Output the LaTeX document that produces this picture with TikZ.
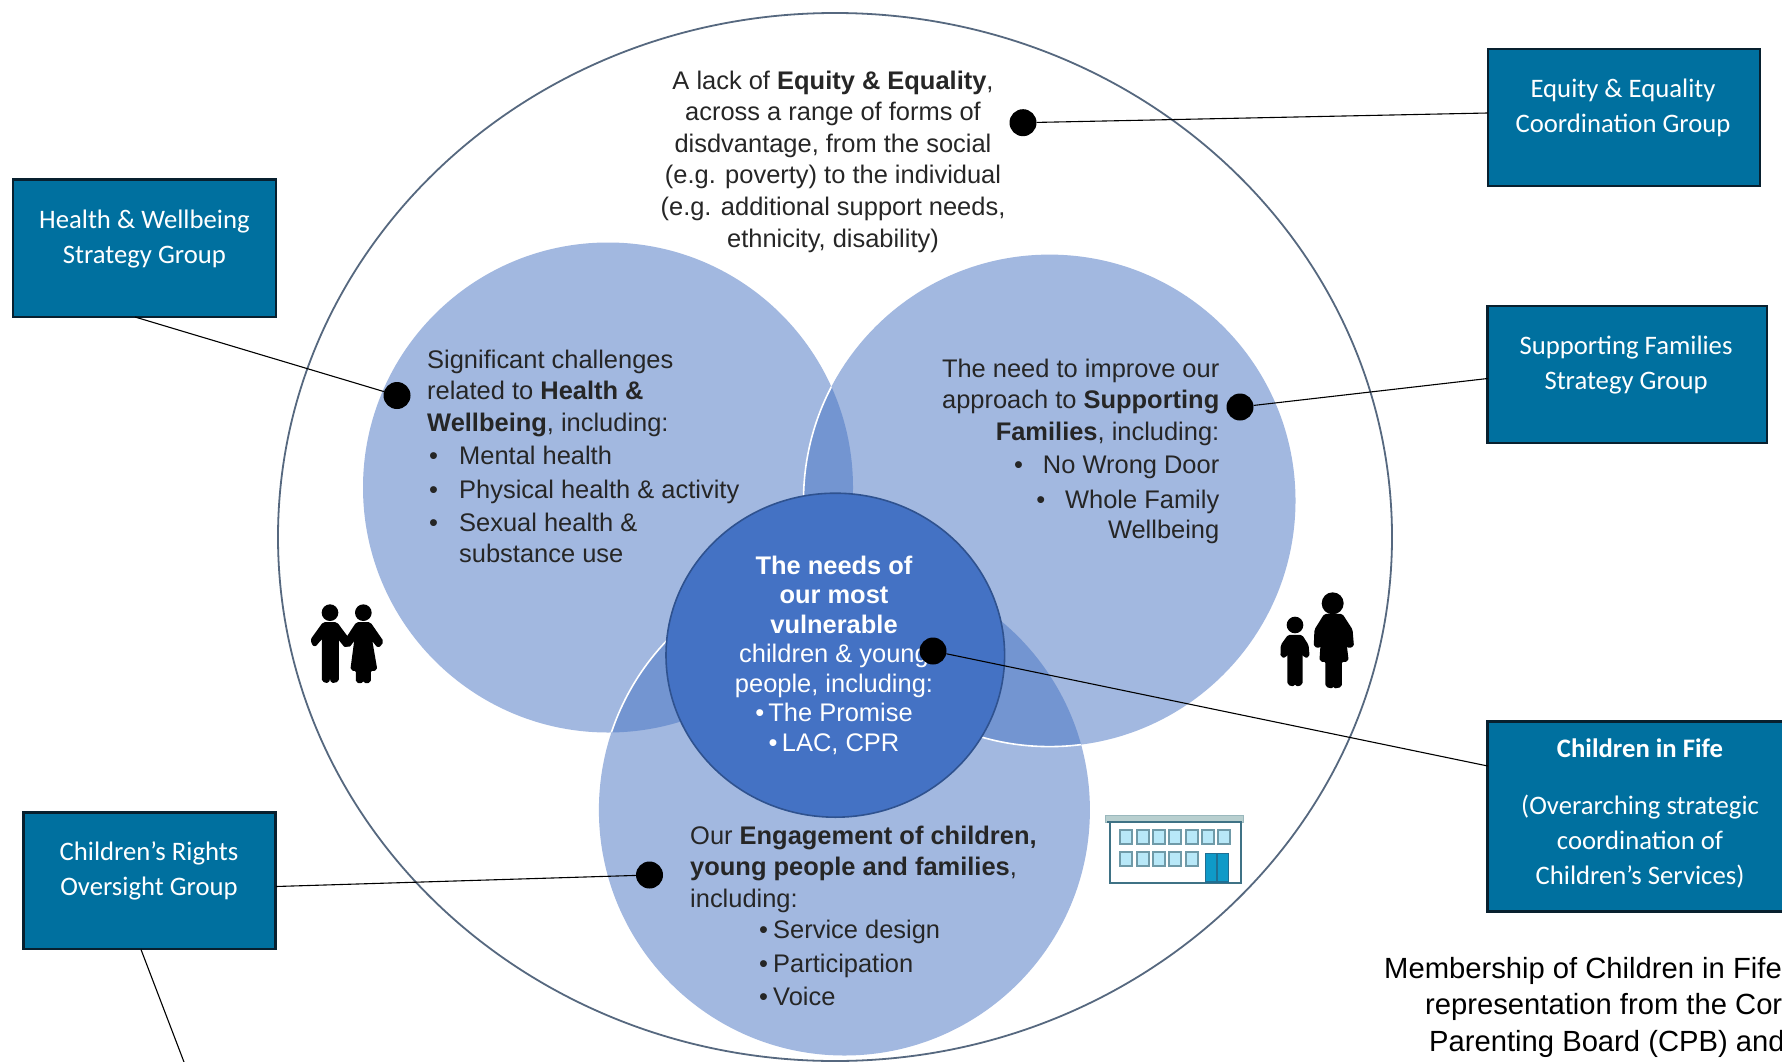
\documentclass[tikz,border=0pt]{standalone}
\usepackage{fontspec}
\setmainfont{Liberation Sans}
\newfontfamily\boxfont{Carlito}
\definecolor{lightblue}{HTML}{A2B8E0}
\definecolor{overlapblue}{HTML}{7395D1}
\definecolor{coreblue}{HTML}{4472C4}
\definecolor{coreedge}{HTML}{2F528F}
\definecolor{boxblue}{HTML}{00709F}
\definecolor{boxedge}{HTML}{08202F}
\definecolor{ringcol}{HTML}{56687F}
\definecolor{bldline}{HTML}{3F7285}
\definecolor{bldroof}{HTML}{B8CFCF}
\definecolor{bldwin}{HTML}{B8E8F8}
\definecolor{bldwinline}{HTML}{6F9AA8}
\definecolor{blddoor}{HTML}{0F9AC8}
\definecolor{blddoorline}{HTML}{1F6F93}
\def\cLeft{(608,487.5) circle [radius=245]}
\def\cRight{(1049.5,500.6) circle [radius=246]}
\def\cBottom{(844.4,810) circle [radius=245.5]}
\tikzset{
  groupbox/.style={draw=boxedge,fill=boxblue,line width=2.5pt,inner sep=0pt,rectangle},
  boxtext/.style={text=white,align=center,inner sep=0pt,font={\boxfont\fontsize{26.7}{35}\selectfont}},
  bodytext/.style={text=black!85,inner sep=0pt,font={\fontsize{25.45}{31}\selectfont}},
  coretext/.style={text=white,inner sep=0pt,align=center,font={\fontsize{25.45}{29.5}\selectfont}},
  notetext/.style={text=black,inner sep=0pt,align=left,font={\fontsize{29.2}{36.5}\selectfont}},
  marker/.style={circle,fill=black,inner sep=0pt,minimum size=27pt},
  link/.style={draw=black,line width=1.1pt},
  figure/.style={fill=black,draw=black,line width=2.5pt,line join=round,rounded corners=1.5pt}
}
\newcommand{\lb}[1]{\makebox[32pt][l]{\hspace{2pt}\textbullet}#1}
\newcommand{\bb}[1]{\hspace*{69pt}\makebox[14pt][l]{\textbullet}#1}
\begin{document}
\begin{tikzpicture}[x=1pt,y=-1pt]
\useasboundingbox (0,0) rectangle (1782,1062);
\fill[white] (0,0) rectangle (1782,1062);
% outer ring
\draw[ringcol,line width=1.8pt] (835,537) ellipse [x radius=557,y radius=524];
% three circles
\fill[lightblue] \cLeft;
\fill[lightblue] \cRight;
\fill[lightblue] \cBottom;
% overlaps
\begin{scope}\clip \cLeft; \fill[overlapblue] \cRight; \fill[overlapblue] \cBottom; \end{scope}
\begin{scope}\clip \cRight; \fill[overlapblue] \cBottom; \end{scope}
% white rims
\begin{scope}\clip \cLeft; \draw[white,line width=1.6pt] \cRight; \draw[white,line width=1.6pt] \cBottom; \end{scope}
\begin{scope}\clip \cBottom; \draw[white,line width=1.6pt] \cRight; \end{scope}
% core
\draw[coreedge,fill=coreblue,line width=1.6pt] (835.3,655.2) ellipse [x radius=169.3,y radius=162];
% body text
\node[bodytext,align=center,font={\fontsize{25.45}{31.6}\selectfont}] (tEquity) at (833,161.5) {A lack of \textbf{Equity \& Equality},\\across a range of forms of\\disdvantage, from the social\\(e.g. poverty) to the individual\\(e.g. additional support needs,\\ethnicity, disability)};
\node[bodytext,align=left,anchor=west] (tHealth) at (427,456) {Significant challenges\\related to \textbf{Health \&}\\[0.8pt]\textbf{Wellbeing}, including:\\[2pt]\lb{Mental health}\\[3pt]\lb{Physical health \& activity}\\[2pt]\lb{Sexual health \&}\\\hspace*{32pt}substance use};
\node[bodytext,align=right,anchor=east] (tFamilies) at (1219.5,451.5) {The need to improve our\\approach to \textbf{Supporting}\\[0.8pt]\textbf{Families}, including:\\[2pt]\textbullet\hspace{20pt}No Wrong Door\\[4.2pt]\textbullet\hspace{20pt}Whole Family\\[-1.5pt]Wellbeing};
\node[coretext] (tCore) at (834,655.2) {\textbf{The needs of}\\\textbf{our most}\\\textbf{vulnerable}\\children \& young\\people, including:\\\textbullet\,The Promise\\\textbullet\,LAC, CPR};
\node[bodytext,align=left,anchor=west] (tEngage) at (690,916) {Our \textbf{Engagement of children,}\\\textbf{young people and families},\\[0.8pt]including:\\[0.8pt]\bb{Service design}\\[3pt]\bb{Participation}\\[2pt]\bb{Voice}};
\node[notetext,anchor=north west] (tNote) at (1384,957) {Membership of Children in Fife\\\hspace*{41pt}representation from the Cor\\\hspace*{45pt}Parenting Board (CPB) and};
% boxes
\node[groupbox,minimum width=263pt,minimum height=137.5pt] (bHealth) at (144.5,248.2) {};
\node[boxtext] (lHealth) at (144.4,239) {Health \& Wellbeing\\Strategy Group};
\node[groupbox,minimum width=272pt,minimum height=137pt] (bEquity) at (1623.8,117.5) {};
\node[boxtext] (lEquity) at (1623,108.3) {Equity \& Equality\\Coordination Group};
\node[groupbox,minimum width=279.6pt,minimum height=137pt] (bFamilies) at (1627.3,374.3) {};
\node[boxtext] (lFamilies) at (1626,365) {Supporting Families\\Strategy Group};
\node[groupbox,minimum width=304.6pt,minimum height=190pt] (bFife) at (1640,816.5) {};
\node[boxtext] (lFife) at (1640,813.5) {\textbf{Children in Fife}\\[22pt](Overarching strategic\\coordination of\\Children’s Services)};
\node[groupbox,minimum width=252pt,minimum height=136.5pt] (bRights) at (149.5,880.5) {};
\node[boxtext] (lRights) at (149,870.8) {Children’s Rights\\Oversight Group};
% markers
\node[marker] (dEquity) at (1023,122.7) {};
\node[marker] (dHealth) at (397,395.5) {};
\node[marker] (dFamilies) at (1240,407) {};
\node[marker] (dCore) at (933,651) {};
\node[marker] (dEngage) at (649.5,875) {};
% connector ends on the boxes
\coordinate (pEquity) at (1487.7,113);
\coordinate (pHealth) at (135,317);
\coordinate (pFamilies) at (1487.7,378.5);
\coordinate (pFife) at (1487.7,766);
\coordinate (pRights) at (276,886.5);
\coordinate (pDownA) at (141,949.5);
\coordinate (pDownB) at (184,1062);
\draw[link] (pEquity) -- (dEquity);
\draw[link] (pHealth) -- (dHealth);
\draw[link] (pFamilies) -- (dFamilies);
\draw[link] (pFife) -- (dCore);
\draw[link] (pRights) -- (dEngage);
\draw[link] (pDownA) -- (pDownB);
% couple icon
\begin{scope}[shift={(295,590)},scale=1/3]
\fill[black] (105,68) circle [radius=25];
\fill[black] (205,68) circle [radius=25];
\path[figure] (86,100) -- (50,150) -- (58,168) -- (84,138) -- (84,272) -- (100,276) -- (105,205) -- (110,276) -- (128,272) -- (128,140) -- (152,170) -- (165,155) -- (124,100) -- cycle;
\path[figure] (186,100) -- (150,155) -- (160,170) -- (183,140) -- (170,238) -- (186,240) -- (186,275) -- (202,276) -- (205,245) -- (208,276) -- (224,275) -- (224,240) -- (243,238) -- (226,140) -- (250,170) -- (262,155) -- (224,100) -- cycle;
\end{scope}
% parent and child icon
\begin{scope}[shift={(1270,580)},scale=1/3]
\fill[black] (188,70) circle [radius=33];
\fill[black] (75,135) circle [radius=25];
\path[figure] (165,105) -- (137,150) -- (135,198) -- (150,200) -- (158,155) -- (152,241) -- (170,243) -- (170,318) -- (188,322) -- (190,250) -- (192,322) -- (212,318) -- (212,243) -- (232,241) -- (222,155) -- (232,200) -- (248,198) -- (244,150) -- (215,105) -- cycle;
\path[figure] (56,168) -- (36,196) -- (35,228) -- (46,230) -- (56,195) -- (56,312) -- (72,316) -- (75,245) -- (78,316) -- (94,312) -- (94,195) -- (104,230) -- (115,228) -- (112,196) -- (94,168) -- cycle;
\end{scope}
% building icon
\begin{scope}[shift={(1095,800)},scale=1/3]
\filldraw[fill=white,draw=bldline,line width=2pt] (45,66) rectangle (437,248);
\filldraw[fill=bldroof,draw=bldroof!75!bldline,line width=1pt] (32,47) rectangle (445,66);
\draw[bldline,line width=2pt] (36,67) -- (441,67);
\foreach \i in {0,...,6} {\filldraw[fill=bldwin,draw=bldwinline,line width=2pt] ({76+\i*49},90) rectangle ({112+\i*49},133);}
\foreach \i in {0,...,4} {\filldraw[fill=bldwin,draw=bldwinline,line width=2pt] ({76+\i*49},155) rectangle ({112+\i*49},198);}
\filldraw[fill=blddoor,draw=blddoorline,line width=1.6pt] (332,160) rectangle (400,246);
\draw[blddoorline,line width=1.2pt] (366,160) -- (366,246);
\end{scope}
\end{tikzpicture}
\end{document}
